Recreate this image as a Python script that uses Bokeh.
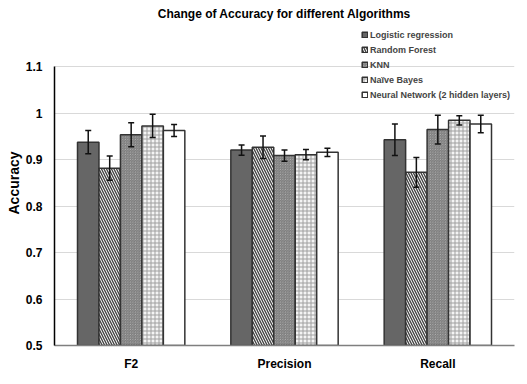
from bokeh.plotting import figure
from bokeh.models import (FactorRange, Range1d, FixedTicker, NumeralTickFormatter,
                          Legend, LegendItem, ColumnDataSource)
from bokeh.transform import dodge
from bokeh.embed import file_html
from bokeh.resources import INLINE

categories = ["F2", "Precision", "Recall"]
algorithms = ["Logistic regression", "Random Forest", "KNN", "Naïve Bayes",
              "Neural Network (2 hidden layers)"]
lr = [0.938, 0.921, 0.943]
lr_err = [0.025, 0.011, 0.034]
rf = [0.882, 0.927, 0.873]
rf_err = [0.026, 0.024, 0.032]
knn = [0.954, 0.909, 0.965]
knn_err = [0.026, 0.012, 0.031]
nb = [0.973, 0.911, 0.985]
nb_err = [0.025, 0.011, 0.010]
nn = [0.963, 0.916, 0.977]
nn_err = [0.013, 0.009, 0.019]
yticks = [0.5, 0.6, 0.7, 0.8, 0.9, 1.0, 1.1]

FONT = "Liberation Sans"

p = figure(x_range=FactorRange(factors=categories), y_range=Range1d(0.5, 1.2),
           width=519, height=373, output_backend="svg", toolbar_location=None,
           min_border_left=54, min_border_right=5, min_border_top=20, min_border_bottom=27,
           title="Change of Accuracy for different Algorithms")
p.outline_line_color = None
p.title.align = "center"
p.title.text_font = FONT
p.title.text_font_size = "12px"
p.title.text_font_style = "bold"
p.title.text_color = "#000000"
p.title.standoff = 0

series = [lr, rf, knn, nb, nn]
errs = [lr_err, rf_err, knn_err, nb_err, nn_err]
offsets = [-0.28, -0.14, 0.0, 0.14, 0.28]
styles = [
    dict(fill_color="#666666"),
    dict(fill_color="#ffffff", hatch_pattern="\\", hatch_color="#444444", hatch_scale=5, hatch_weight=1.4),
    dict(fill_color="#cccccc", hatch_pattern="\\", hatch_color="#777777", hatch_scale=2.5, hatch_weight=1.0),
    dict(fill_color="#f4f4f4", hatch_pattern="+", hatch_color="#a0a0a0", hatch_scale=4, hatch_weight=1.0),
    dict(fill_color="#ffffff"),
]

items = []
for name, vals, err, off, st in zip(algorithms, series, errs, offsets, styles):
    src = ColumnDataSource(dict(cat=categories, val=vals,
                                lo=[v - e for v, e in zip(vals, err)],
                                hi=[v + e for v, e in zip(vals, err)]))
    xs = dodge("cat", off, range=p.x_range)
    r = p.vbar(x=xs, top="val", bottom=0.5, width=0.14, source=src,
               line_color="#333333", line_width=1.5, **st)
    p.segment(x0=xs, x1=xs, y0="lo", y1="hi", source=src, line_color="#111111", line_width=1.5)
    p.scatter(x=xs, y="hi", source=src, marker="dash", size=6, line_color="#111111", line_width=1.5)
    p.scatter(x=xs, y="lo", source=src, marker="dash", size=6, line_color="#111111", line_width=1.5)
    items.append(LegendItem(label=name, renderers=[r]))

legend = Legend(items=items, location=(307, 243), orientation="vertical",
                label_text_font=FONT, label_text_font_size="9px", label_text_font_style="bold",
                label_height=15, glyph_height=7, glyph_width=7, spacing=0, padding=0,
                margin=0, label_standoff=2, border_line_color=None,
                background_fill_alpha=0)
p.add_layout(legend, "center")

p.yaxis.ticker = FixedTicker(ticks=yticks)
p.yaxis.formatter = NumeralTickFormatter(format="0.[0]")
p.yaxis.bounds = (0.5, 1.1)
p.yaxis.axis_label = "Accuracy"
for ax in (p.xaxis, p.yaxis):
    ax.major_label_text_font = FONT
    ax.major_label_text_font_size = "12px"
    ax.major_label_text_font_style = "bold"
    ax.major_label_text_color = "#000000"
    ax.major_tick_line_color = None
    ax.minor_tick_line_color = None
    ax.axis_label_text_font = FONT
    ax.axis_label_text_font_style = "bold"
    ax.axis_label_text_font_size = "14px"
    ax.axis_label_text_color = "#000000"
    ax.axis_line_width = 1.5
p.yaxis.axis_line_color = "#000000"
p.xaxis.axis_line_color = "#7f7f7f"
p.yaxis.major_label_standoff = 6
p.yaxis.axis_label_standoff = 1
p.xaxis.major_label_standoff = 5
p.xgrid.grid_line_color = None
p.ygrid.grid_line_color = "#d9d9d9"
p.ygrid.grid_line_width = 1

open("out.html", "w").write(file_html(p, INLINE))
